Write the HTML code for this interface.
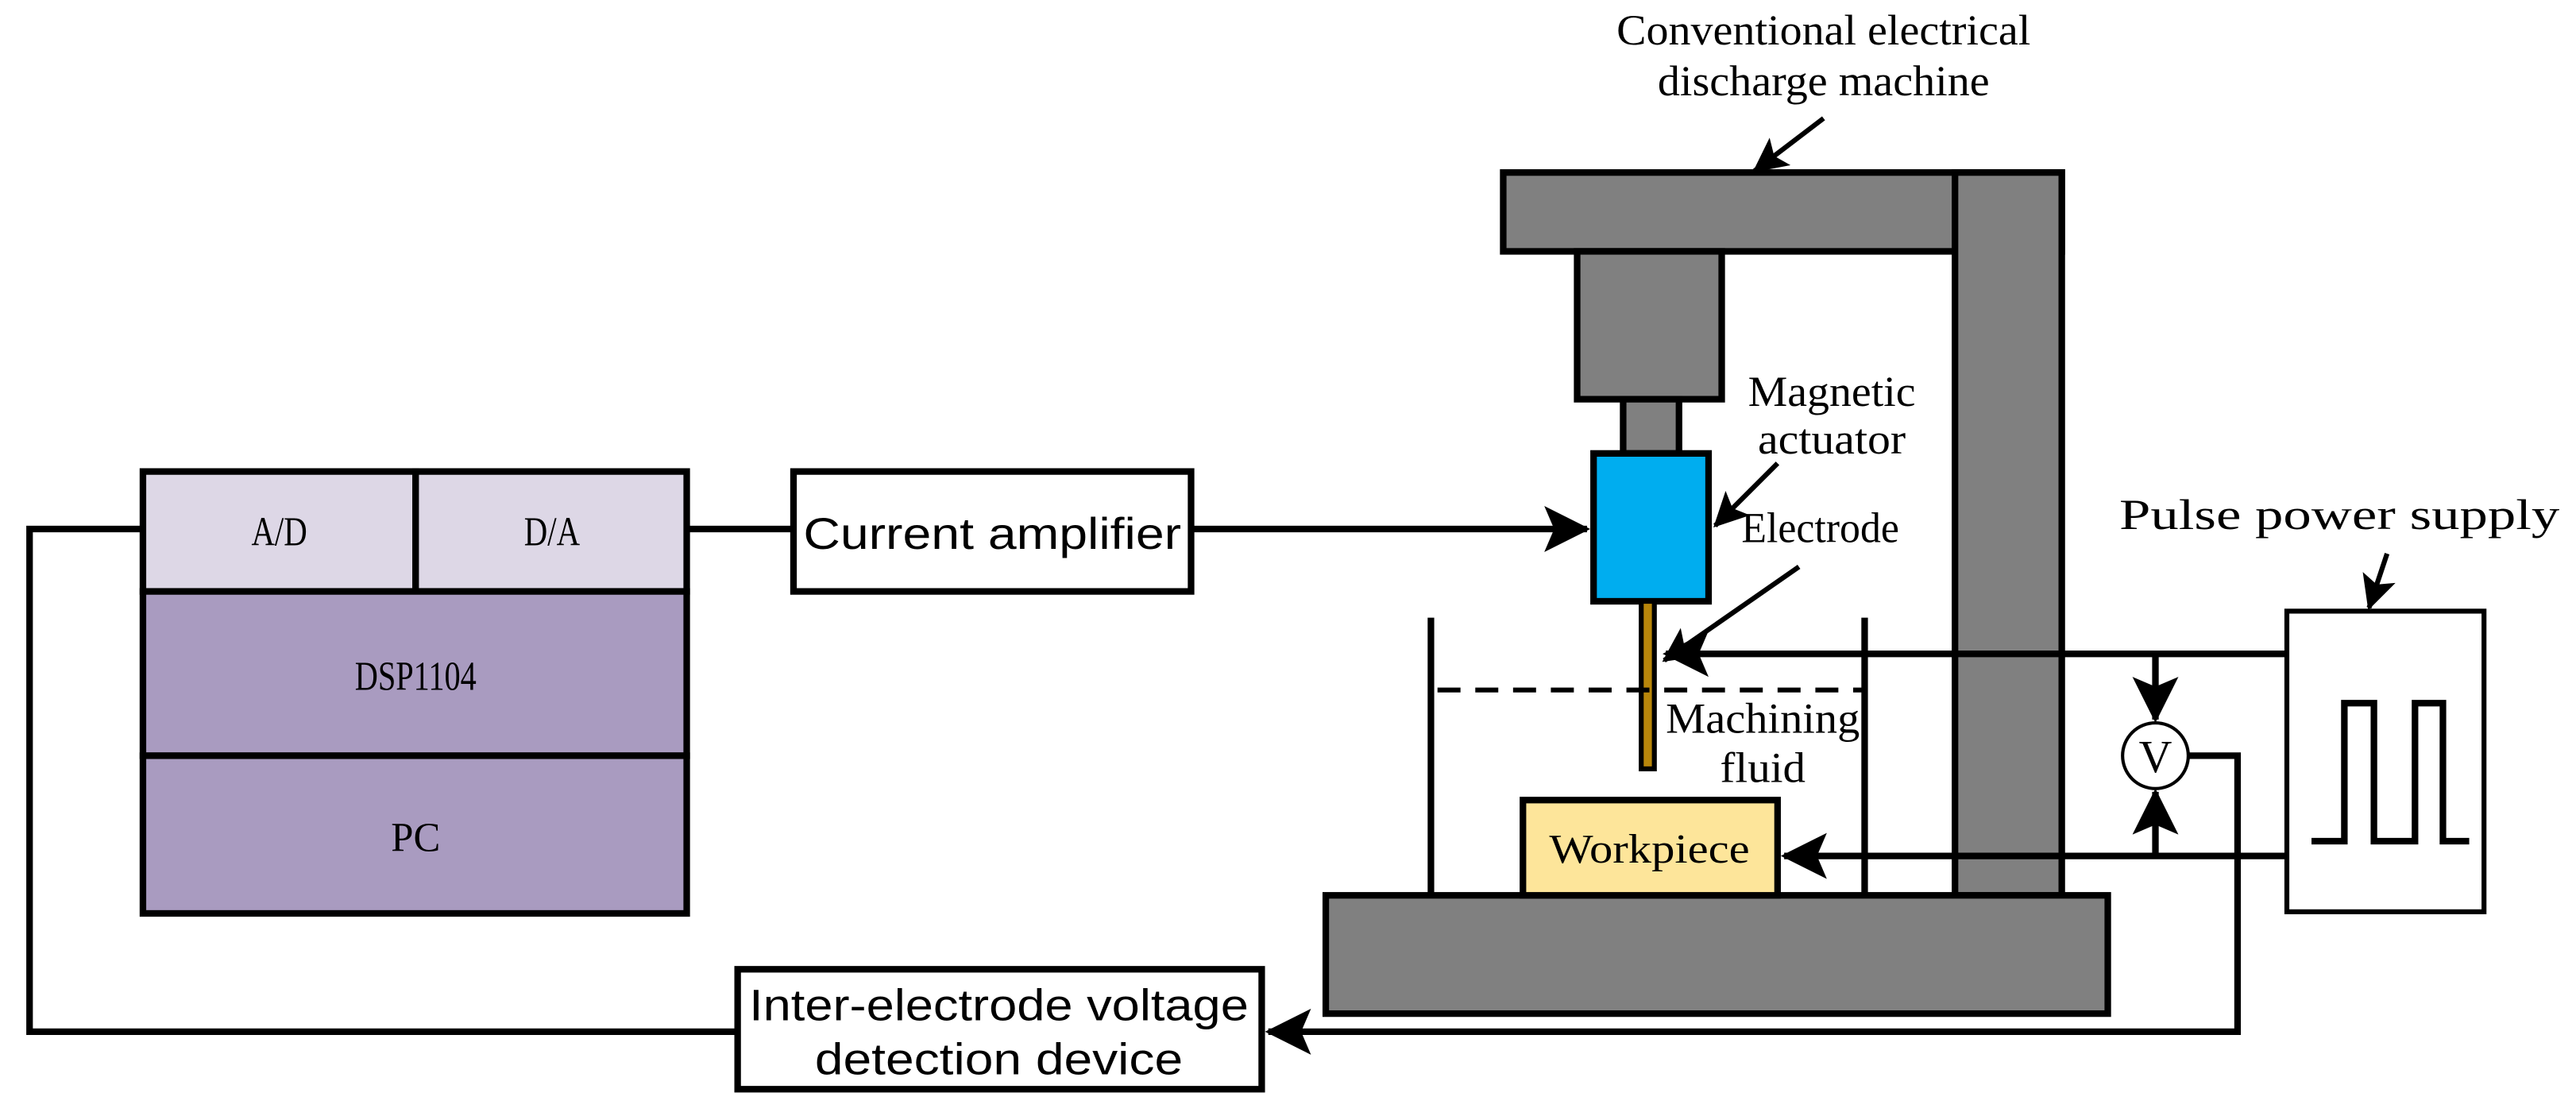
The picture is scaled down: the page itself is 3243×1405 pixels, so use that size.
<!DOCTYPE html>
<html><head><meta charset="utf-8"><style>
html,body{margin:0;padding:0;background:#fff;}
svg{display:block;}
.t{font-family:"Liberation Serif",serif;}
.s{font-family:"Liberation Sans",sans-serif;}
</style></head><body>
<svg width="3243" height="1405" viewBox="0 0 1568 679.3" xmlns="http://www.w3.org/2000/svg">
<defs>
<marker id="ah" markerWidth="7" markerHeight="7" refX="6.5" refY="3.5" orient="auto" markerUnits="strokeWidth">
<path d="M0,0 L7,3.5 L0,7 L1.5,3.5 Z" fill="#000"/>
</marker>
</defs>
<g stroke="#000" stroke-width="4" fill="none" stroke-linejoin="miter">
<rect x="87" y="287" width="166" height="73" fill="#ddd7e6"/>
<rect x="253" y="287" width="165" height="73" fill="#ddd7e6"/>
<rect x="87" y="360" width="331" height="100" fill="#a99bc0"/>
<rect x="87" y="460" width="331" height="96" fill="#a99bc0"/>
<polyline points="87,322 18,322 18,628 449,628"/>
<line x1="418" y1="322" x2="483" y2="322"/>
<rect x="483" y="287" width="242" height="73" fill="#fff"/>
<line x1="725" y1="322" x2="966" y2="322" marker-end="url(#ah)"/>
<rect x="449" y="590" width="319" height="73" fill="#fff"/>
<polyline points="1332,460 1362,460 1362,628 772,628" marker-end="url(#ah)"/>
<rect x="915" y="105" width="340" height="48" fill="#808080"/>
<rect x="1190" y="105" width="65" height="440" fill="#808080"/>
<rect x="960" y="153" width="88" height="90" fill="#808080"/>
<rect x="988" y="243" width="34" height="33" fill="#808080"/>
<rect x="970" y="276" width="70" height="90" fill="#00adef"/>
<rect x="999" y="366" width="8" height="102" fill="#b8860b" stroke-width="3"/>
<line x1="871" y1="376" x2="871" y2="545"/>
<line x1="1135" y1="376" x2="1135" y2="545"/>
<line x1="875" y1="420" x2="1135" y2="420" stroke-width="3" stroke-dasharray="14,9"/>
<rect x="807" y="545" width="476" height="72" fill="#808080"/>
<rect x="927" y="487" width="155" height="58" fill="#fde59a"/>
<rect x="1392" y="372" width="120" height="183" fill="#fff" stroke-width="3"/>
<polyline points="1407,512 1427,512 1427,428 1445,428 1445,512 1470,512 1470,428 1487,428 1487,512 1503,512"/>
<line x1="1392" y1="398" x2="1014" y2="398" marker-end="url(#ah)"/>
<line x1="1392" y1="521" x2="1086" y2="521" marker-end="url(#ah)"/>
<line x1="1312" y1="398" x2="1312" y2="438" marker-end="url(#ah)"/>
<line x1="1312" y1="521" x2="1312" y2="482" marker-end="url(#ah)"/>
<circle cx="1312" cy="460" r="20" fill="#fff" stroke-width="2"/>
<line x1="1110" y1="72" x2="1068" y2="104" stroke-width="3" marker-end="url(#ah)"/>
<line x1="1082" y1="282" x2="1044" y2="320" stroke-width="3" marker-end="url(#ah)"/>
<line x1="1095" y1="345" x2="1013" y2="402" stroke-width="3" marker-end="url(#ah)"/>
<line x1="1453" y1="337" x2="1442" y2="370" stroke-width="3" marker-end="url(#ah)"/>
</g>
<g fill="#000" text-anchor="middle">
<text class="t" x="170" y="332" font-size="25" textLength="34" lengthAdjust="spacingAndGlyphs">A/D</text>
<text class="t" x="336" y="332" font-size="25" textLength="34" lengthAdjust="spacingAndGlyphs">D/A</text>
<text class="t" x="253" y="420" font-size="25" textLength="74" lengthAdjust="spacingAndGlyphs">DSP1104</text>
<text class="t" x="253" y="518" font-size="25" textLength="30" lengthAdjust="spacingAndGlyphs">PC</text>
<text class="s" x="604" y="334" font-size="27" textLength="230" lengthAdjust="spacingAndGlyphs">Current amplifier</text>
<text class="s" x="608" y="621" font-size="27" textLength="304" lengthAdjust="spacingAndGlyphs">Inter-electrode voltage</text>
<text class="s" x="608" y="654" font-size="27" textLength="224" lengthAdjust="spacingAndGlyphs">detection device</text>
<text class="t" x="1110" y="27" font-size="26" textLength="252" lengthAdjust="spacingAndGlyphs">Conventional electrical</text>
<text class="t" x="1110" y="58" font-size="26" textLength="202" lengthAdjust="spacingAndGlyphs">discharge machine</text>
<text class="t" x="1115" y="247" font-size="26" textLength="102" lengthAdjust="spacingAndGlyphs">Magnetic</text>
<text class="t" x="1115" y="276" font-size="26" textLength="90" lengthAdjust="spacingAndGlyphs">actuator</text>
<text class="t" x="1108" y="330" font-size="26" textLength="96" lengthAdjust="spacingAndGlyphs">Electrode</text>
<text class="t" x="1073" y="446" font-size="26" textLength="118" lengthAdjust="spacingAndGlyphs">Machining</text>
<text class="t" x="1073" y="476" font-size="26" textLength="52" lengthAdjust="spacingAndGlyphs">fluid</text>
<text class="t" x="1004" y="525" font-size="25" textLength="122" lengthAdjust="spacingAndGlyphs">Workpiece</text>
<text class="t" x="1424" y="322" font-size="26" textLength="268" lengthAdjust="spacingAndGlyphs">Pulse power supply</text>
<text class="t" x="1312" y="470" font-size="28">V</text>
</g>
</svg>
</body></html>
